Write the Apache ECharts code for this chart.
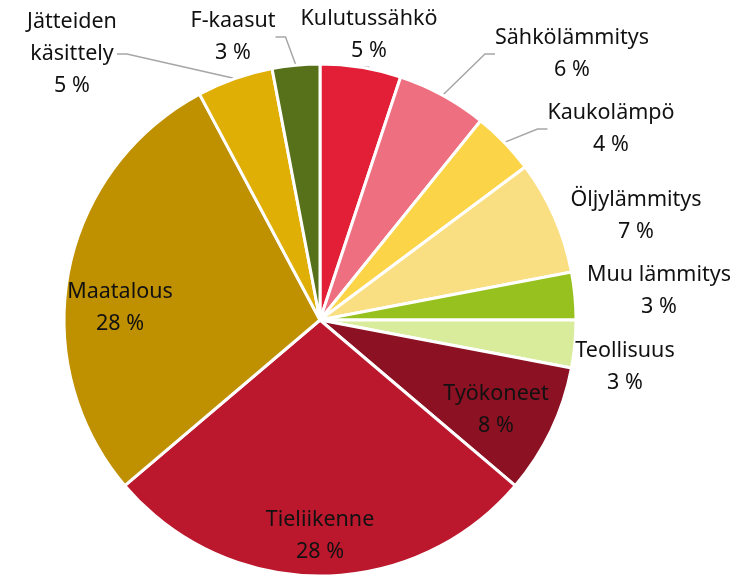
<!DOCTYPE html>
<html>
<head>
<meta charset="utf-8">
<script src="https://cdn.jsdelivr.net/npm/echarts@6/dist/echarts.min.js"></script>
<style>
    html, body { margin: 0; padding: 0; background: #fff; }
    #chart { width: 745px; height: 575px; }
</style>
</head>
<body>
<div id="chart"></div>
<script>
// shares of emissions, %
const categories = ['Kulutussähkö', 'Sähkölämmitys', 'Kaukolämpö', 'Öljylämmitys', 'Muu lämmitys',
    'Teollisuus', 'Työkoneet', 'Tieliikenne', 'Maatalous', 'Jätteiden\nkäsittely', 'F-kaasut']
const values = [5.1, 5.7, 4.0, 7.2, 3.0, 3.0, 8.2, 27.6, 28.4, 4.8, 3.0]

const colors = ['#E21F36', '#EE6F80', '#FBD447', '#FADE82', '#97C11F',
    '#D9EC9B', '#8B1123', '#BC182D', '#BF9000', '#DFAF06', '#57711A']

// where each label sits (text block centre) and whether it gets a leader line
const labelPos = [
    [369, 35], [572, 54], [611, 129], [636, 216], [659, 291],
    [625, 367], [496, 410], [320, 536], [120, 308], [72, 54], [233, 37]
]
const withLine = [true, true, true, false, false, false, false, false, false, true, true]

const chart = echarts.init(document.getElementById('chart'))

const option = {
    animation: false,
    series: [{
        type: 'pie',
        center: [320, 320],
        radius: 256,
        startAngle: 90,
        clockwise: true,
        avoidLabelOverlap: false,
        itemStyle: {
            borderColor: '#fff',
            borderWidth: 3
        },
        label: {
            position: 'outside',
            fontFamily: 'Noto Sans',
            fontSize: 21.5,
            lineHeight: 32,
            color: '#111',
            align: 'center',
            formatter: p => p.name + '\n' + Math.round(p.percent) + ' %'
        },
        labelLine: {
            length: 10,
            length2: 10,
            lineStyle: { color: '#a6a6a6', width: 1.5 }
        },
        labelLayout: params => {
            const pos = labelPos[params.dataIndex]
            return { x: pos[0], y: pos[1], align: 'center', verticalAlign: 'middle' }
        },
        data: categories.map((name, i) => ({
            name: name,
            value: values[i],
            itemStyle: { color: colors[i] },
            labelLine: { show: withLine[i] }
        }))
    }]
}

chart.setOption(option)
</script>
</body>
</html>
